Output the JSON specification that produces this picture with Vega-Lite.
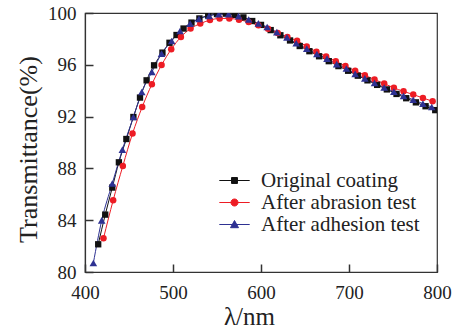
{
  "$schema": "https://vega.github.io/schema/vega-lite/v6.json",
  "width": 352,
  "height": 259,
  "autosize": "none",
  "padding": {"left": 85, "top": 13, "right": 16, "bottom": 61},
  "background": "white",
  "config": {
    "font": "Liberation Serif",
    "view": {"stroke": "#333", "strokeWidth": 1.2},
    "axis": {"grid": false, "domainColor": "#333", "domainWidth": 1.2, "ticks": true, "tickColor": "#333", "tickWidth": 1.5, "tickOpacity": 1, "labelFont": "Liberation Serif", "labelFontSize": 19, "labelColor": "#222", "titleFont": "Liberation Serif", "titleFontWeight": "normal", "titleColor": "#222"}
  },
  "datasets": {
    "curves": [
      {"s": "Original coating", "w": 415, "t": 82.14},
      {"s": "Original coating", "w": 423, "t": 84.43},
      {"s": "Original coating", "w": 431, "t": 86.52},
      {"s": "Original coating", "w": 438.5, "t": 88.47},
      {"s": "Original coating", "w": 447, "t": 90.27},
      {"s": "Original coating", "w": 455, "t": 91.97},
      {"s": "Original coating", "w": 462.5, "t": 93.47},
      {"s": "Original coating", "w": 470, "t": 94.8},
      {"s": "Original coating", "w": 478.5, "t": 95.96},
      {"s": "Original coating", "w": 488, "t": 96.94},
      {"s": "Original coating", "w": 496, "t": 97.7},
      {"s": "Original coating", "w": 504, "t": 98.3},
      {"s": "Original coating", "w": 512, "t": 98.8},
      {"s": "Original coating", "w": 521, "t": 99.26},
      {"s": "Original coating", "w": 530, "t": 99.58},
      {"s": "Original coating", "w": 540, "t": 99.8},
      {"s": "Original coating", "w": 550, "t": 99.92},
      {"s": "Original coating", "w": 560, "t": 99.95},
      {"s": "Original coating", "w": 570, "t": 99.86},
      {"s": "Original coating", "w": 580, "t": 99.66},
      {"s": "Original coating", "w": 590, "t": 99.38},
      {"s": "Original coating", "w": 600, "t": 99.08},
      {"s": "Original coating", "w": 611, "t": 98.68},
      {"s": "Original coating", "w": 622, "t": 98.28},
      {"s": "Original coating", "w": 633, "t": 97.88},
      {"s": "Original coating", "w": 644, "t": 97.45},
      {"s": "Original coating", "w": 655, "t": 97.05},
      {"s": "Original coating", "w": 666, "t": 96.66},
      {"s": "Original coating", "w": 677, "t": 96.28},
      {"s": "Original coating", "w": 688, "t": 95.9},
      {"s": "Original coating", "w": 699, "t": 95.54},
      {"s": "Original coating", "w": 710, "t": 95.16},
      {"s": "Original coating", "w": 721, "t": 94.8},
      {"s": "Original coating", "w": 732, "t": 94.45},
      {"s": "Original coating", "w": 743, "t": 94.1},
      {"s": "Original coating", "w": 754, "t": 93.75},
      {"s": "Original coating", "w": 765, "t": 93.42},
      {"s": "Original coating", "w": 776, "t": 93.1},
      {"s": "Original coating", "w": 787, "t": 92.8},
      {"s": "Original coating", "w": 798, "t": 92.5},
      {"s": "After abrasion test", "w": 421, "t": 82.6},
      {"s": "After abrasion test", "w": 432, "t": 85.54},
      {"s": "After abrasion test", "w": 443, "t": 88.19},
      {"s": "After abrasion test", "w": 454, "t": 90.69},
      {"s": "After abrasion test", "w": 465, "t": 92.74},
      {"s": "After abrasion test", "w": 476, "t": 94.5},
      {"s": "After abrasion test", "w": 487, "t": 95.98},
      {"s": "After abrasion test", "w": 498, "t": 97.2},
      {"s": "After abrasion test", "w": 509, "t": 98.15},
      {"s": "After abrasion test", "w": 520, "t": 98.8},
      {"s": "After abrasion test", "w": 531, "t": 99.18},
      {"s": "After abrasion test", "w": 542, "t": 99.45},
      {"s": "After abrasion test", "w": 553, "t": 99.58},
      {"s": "After abrasion test", "w": 564, "t": 99.58},
      {"s": "After abrasion test", "w": 575, "t": 99.48},
      {"s": "After abrasion test", "w": 586, "t": 99.3},
      {"s": "After abrasion test", "w": 597, "t": 99.05},
      {"s": "After abrasion test", "w": 608, "t": 98.78},
      {"s": "After abrasion test", "w": 619, "t": 98.45},
      {"s": "After abrasion test", "w": 630, "t": 98.15},
      {"s": "After abrasion test", "w": 641, "t": 97.85},
      {"s": "After abrasion test", "w": 652, "t": 97.42},
      {"s": "After abrasion test", "w": 663, "t": 97.0},
      {"s": "After abrasion test", "w": 674, "t": 96.65},
      {"s": "After abrasion test", "w": 685, "t": 96.27},
      {"s": "After abrasion test", "w": 696, "t": 95.9},
      {"s": "After abrasion test", "w": 707, "t": 95.54},
      {"s": "After abrasion test", "w": 718, "t": 95.2},
      {"s": "After abrasion test", "w": 729, "t": 94.86},
      {"s": "After abrasion test", "w": 740, "t": 94.55},
      {"s": "After abrasion test", "w": 751, "t": 94.22},
      {"s": "After abrasion test", "w": 762, "t": 93.95},
      {"s": "After abrasion test", "w": 773, "t": 93.7},
      {"s": "After abrasion test", "w": 784, "t": 93.44},
      {"s": "After abrasion test", "w": 795, "t": 93.18},
      {"s": "After adhesion test", "w": 409.5, "t": 80.69},
      {"s": "After adhesion test", "w": 419, "t": 83.99},
      {"s": "After adhesion test", "w": 431, "t": 86.83},
      {"s": "After adhesion test", "w": 442.5, "t": 89.45},
      {"s": "After adhesion test", "w": 455, "t": 91.97},
      {"s": "After adhesion test", "w": 464.5, "t": 93.9},
      {"s": "After adhesion test", "w": 476, "t": 95.44},
      {"s": "After adhesion test", "w": 487, "t": 96.86},
      {"s": "After adhesion test", "w": 498.5, "t": 97.84},
      {"s": "After adhesion test", "w": 508, "t": 98.61},
      {"s": "After adhesion test", "w": 519.5, "t": 99.18},
      {"s": "After adhesion test", "w": 529.5, "t": 99.55},
      {"s": "After adhesion test", "w": 541, "t": 99.78},
      {"s": "After adhesion test", "w": 552, "t": 99.9},
      {"s": "After adhesion test", "w": 563, "t": 99.9},
      {"s": "After adhesion test", "w": 574.5, "t": 99.76},
      {"s": "After adhesion test", "w": 586, "t": 99.5},
      {"s": "After adhesion test", "w": 597, "t": 99.2},
      {"s": "After adhesion test", "w": 607, "t": 98.92},
      {"s": "After adhesion test", "w": 618, "t": 98.52},
      {"s": "After adhesion test", "w": 629.5, "t": 98.12},
      {"s": "After adhesion test", "w": 640, "t": 97.66},
      {"s": "After adhesion test", "w": 652, "t": 97.25},
      {"s": "After adhesion test", "w": 663.5, "t": 96.83},
      {"s": "After adhesion test", "w": 675, "t": 96.48},
      {"s": "After adhesion test", "w": 686, "t": 96.05},
      {"s": "After adhesion test", "w": 697, "t": 95.72},
      {"s": "After adhesion test", "w": 707, "t": 95.3},
      {"s": "After adhesion test", "w": 718, "t": 94.95},
      {"s": "After adhesion test", "w": 729, "t": 94.6},
      {"s": "After adhesion test", "w": 740, "t": 94.25},
      {"s": "After adhesion test", "w": 751, "t": 93.93},
      {"s": "After adhesion test", "w": 762, "t": 93.6},
      {"s": "After adhesion test", "w": 773, "t": 93.3},
      {"s": "After adhesion test", "w": 784, "t": 93.0},
      {"s": "After adhesion test", "w": 794, "t": 92.74}
    ]
  },
  "data": {"name": "curves"},
  "encoding": {
    "x": {"field": "w", "type": "quantitative", "scale": {"domain": [400, 800], "nice": false, "zero": false},
      "axis": {"values": [400, 500, 600, 700, 800], "tickSize": -8, "labelPadding": 19, "title": "λ/nm", "titleFontSize": 25, "titlePadding": 2, "titleX": 164, "labelFlush": false, "zindex": 2}},
    "y": {"field": "t", "type": "quantitative", "scale": {"domain": [80, 100], "nice": false, "zero": false},
      "axis": {"values": [80, 84, 88, 92, 96, 100], "tickSize": -8, "labelPadding": 17, "title": "Transmittance(%)", "titleFontSize": 26, "titlePadding": 6, "titleY": 136, "labelFlush": false, "zindex": 2}},
    "color": {"field": "s", "type": "nominal",
      "scale": {"domain": ["Original coating", "After abrasion test", "After adhesion test"], "range": ["#111111", "#ed1c24", "#2e3192"]},
      "legend": {
        "title": null, "orient": "none", "legendX": 139, "legendY": 157,
        "labelFont": "Liberation Serif", "labelFontSize": 21, "labelColor": "#222", "labelOffset": 16,
        "symbolSize": 256, "rowPadding": 0, "padding": 0,
        "encode": {"symbols": {"update": {
          "shape": {"signal": "datum.value === 'Original coating' ? 'M-1.9,0H1.9M-0.37,-0.37H0.37V0.37H-0.37Z' : datum.value === 'After abrasion test' ? 'M-1.9,0H1.9M0.44,0A0.44,0.44,0,1,1,-0.44,0A0.44,0.44,0,1,1,0.44,0Z' : 'M-1.9,0H1.9M0,-0.5L0.5,0.4H-0.5Z'"},
          "fill": {"signal": "datum.value === 'Original coating' ? '#111111' : datum.value === 'After abrasion test' ? '#ed1c24' : '#2e3192'"},
          "stroke": {"signal": "datum.value === 'Original coating' ? '#111111' : datum.value === 'After abrasion test' ? '#ed1c24' : '#2e3192'"},
          "strokeWidth": {"value": 1},
          "opacity": {"value": 1}
        }}}
      }
    }
  },
  "layer": [
    {
      "mark": {"type": "line", "strokeWidth": 1, "interpolate": "monotone", "clip": true}
    },
    {
      "transform": [{"filter": "datum.s === 'Original coating'"}],
      "mark": {"type": "point", "shape": "square", "filled": true, "opacity": 1, "size": 40, "clip": true}
    },
    {
      "transform": [{"filter": "datum.s === 'After abrasion test'"}],
      "mark": {"type": "point", "shape": "circle", "filled": true, "opacity": 1, "size": 42, "clip": true}
    },
    {
      "transform": [{"filter": "datum.s === 'After adhesion test'"}],
      "mark": {"type": "point", "shape": "triangle-up", "filled": true, "opacity": 1, "size": 58, "clip": true}
    }
  ]
}
